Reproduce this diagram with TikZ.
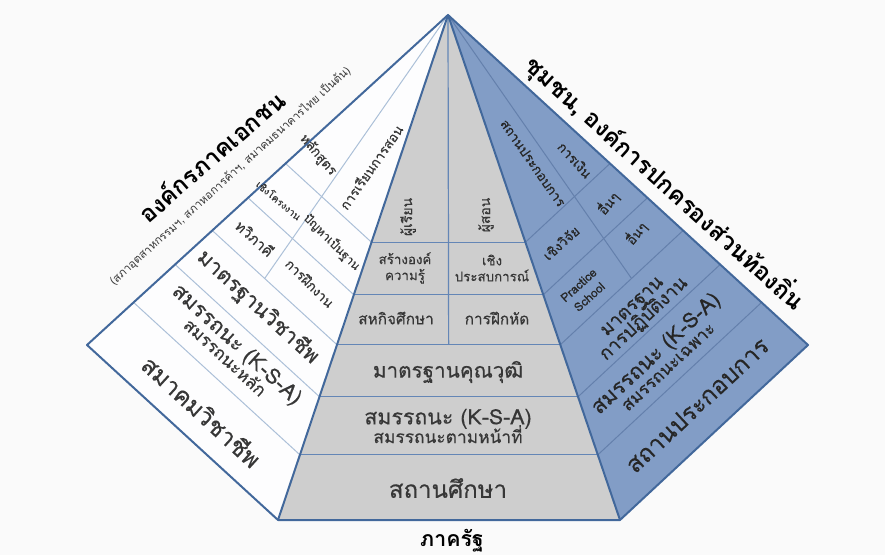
\documentclass[tikz,border=0pt]{standalone}
\usepackage{fontspec}
\newfontfamily\thaifont[Script=Thai, FakeBold=0.4]{Loma}
\newfontfamily\thaihead[Script=Thai]{Loma}
\newcommand\subsz{\fontsize{13}{14}\selectfont}
\usetikzlibrary{calc}
\tikzset{
  edge/.style = {draw=edgeBlue, line width=1.5pt, line join=round},
  bandL/.style = {draw=lineLeft, line width=0.75pt},
  bandF/.style = {draw=lineFront, line width=0.9pt},
  bandR/.style = {draw=lineRight, line width=0.75pt}
}

\begin{document}
\begin{tikzpicture}[x=0.75pt, y=-0.75pt]
  \definecolor{edgeBlue}{RGB}{66,104,155}
  \definecolor{frontGray}{RGB}{206,206,206}
  \definecolor{rightBlue}{RGB}{130,157,198}
  \definecolor{leftWhite}{RGB}{253,253,254}
  \definecolor{lineLeft}{RGB}{172,192,216}
  \definecolor{lineFront}{RGB}{100,134,182}
  \definecolor{lineRight}{RGB}{100,128,172}
  \definecolor{txtGray}{RGB}{55,55,55}
  \tikzset{
    sideLabel/.style={font=\thaihead\bfseries\fontsize{18}{20}\selectfont, text=black},
    noteText/.style={font=\thaihead\fontsize{8.5}{10}\selectfont, text=txtGray},
    bandText/.style={font=\thaifont\fontsize{16}{17}\selectfont, text=txtGray, align=center},
    baseText/.style={font=\thaifont\fontsize{18}{20}\selectfont, text=txtGray, align=center},
    cellText/.style={font=\thaifont\fontsize{10}{12}\selectfont, text=txtGray, align=center}
  }

  \useasboundingbox (0,0) rectangle (885,555);
  \fill[white!98!black] (0,0) rectangle (885,555);

  \coordinate (A)  at (448,15);
  \coordinate (L)  at (87,345);
  \coordinate (BL) at (278,520);
  \coordinate (BR) at (620,520);
  \coordinate (R)  at (808,345);
  \coordinate (dL) at ($(L)!0.42!(BL)$);
  \coordinate (dF) at ($(BL)!0.5!(BR)$);
  \coordinate (dR) at ($(R)!0.42!(BR)$);

  \fill[leftWhite] (A) -- (L) -- (BL) -- cycle;
  \fill[frontGray] (A) -- (BL) -- (BR) -- cycle;
  \fill[rightBlue] (A) -- (BR) -- (R) -- cycle;

  % bands
  \foreach \t in {0.45,0.554,0.653,0.756,0.871} {
    \draw[bandL] ($(A)!\t!(L)$)  -- ($(A)!\t!(BL)$);
    \draw[bandF] ($(A)!\t!(BL)$) -- ($(A)!\t!(BR)$);
    \draw[bandR] ($(A)!\t!(BR)$) -- ($(A)!\t!(R)$);
  }
  \draw[bandL] (A) -- ($(A)!0.653!(dL)$);
  \draw[bandF] (A) -- ($(A)!0.653!(dF)$);
  \draw[bandR] (A) -- ($(A)!0.653!(dR)$);

  \draw[edge] (A) -- (L) -- (BL) -- (BR) -- (R) -- cycle;
  \draw[edge] (BL) -- (A) -- (BR);

  % front face
  \node[cellText, font=\thaifont\fontsize{10.5}{12}\selectfont, rotate=90] (learner) at (408,217) {ผู้เรียน};
  \node[cellText, font=\thaifont\fontsize{10.5}{12}\selectfont, rotate=90] (teacher) at (486,215) {ผู้สอน};
  \node[cellText] (build) at (405,268) {สร้างองค์\\ความรู้};
  \node[cellText] (exper) at (492,268) {เชิง\\ประสบการณ์};
  \node[cellText, font=\thaifont\fontsize{11.5}{13}\selectfont] (coop) at (396,318) {สหกิจศึกษา};
  \node[cellText, font=\thaifont\fontsize{11.5}{13}\selectfont] (drill) at (497,318) {การฝึกหัด};
  \node[bandText, font=\thaifont\fontsize{15.5}{17}\selectfont] (qualstd) at (448,372) {มาตรฐานคุณวุฒิ};
  \node[bandText] (funccomp) at (448,426) {สมรรถนะ (K-S-A)\\[-3pt]{\subsz สมรรถนะตามหน้าที่}};
  \node[baseText] (school) at (448,488) {สถานศึกษา};
  \node[sideLabel, font=\thaihead\bfseries\fontsize{16}{18}\selectfont] (state) at (452,541) {ภาครัฐ};

  % left face
  \node[baseText, rotate=-42.5] (assoc) at (202,411) {สมาคมวิชาชีพ};
  \node[bandText, rotate=-42.5] (corecomp) at (232,350) {สมรรถนะ (K-S-A)\\[-4pt]{\subsz สมรรถนะหลัก}};
  \node[bandText, rotate=-42.5] (profstd) at (258,307) {มาตรฐานวิชาชีพ};
  \node[cellText, font=\thaifont\fontsize{11}{12}\selectfont, rotate=-42] (dual) at (255,238) {ทวิภาคี};
  \node[cellText, rotate=-45] (intern) at (310,283) {การฝึกงาน};
  \node[cellText, font=\thaifont\fontsize{7.5}{9}\selectfont, rotate=-40] (project) at (279,200) {เชิงโครงงาน};
  \node[cellText, font=\thaifont\fontsize{9}{10}\selectfont, rotate=-45] (pbl) at (332,242) {ปัญหาเป็นฐาน};
  \node[cellText, rotate=-50] (curr) at (318,155) {หลักสูตร};
  \node[cellText, rotate=55] (teach) at (371,167) {การเรียนการสอน};
  \node[sideLabel, rotate=41] (private) at (211,156) {องค์กรภาคเอกชน};
  \node[noteText, rotate=42] (privnote) at (230,176) {(สภาอุตสาหกรรมฯ, สภาหอการค้าฯ, สมาคมธนาคารไทย เป็นต้น)};

  % right face
  \node[cellText, text=black!85, rotate=-55] (firm) at (533,163) {สถานประกอบการ};
  \node[cellText, text=black!85, rotate=-48] (finance) at (575,160) {การเงิน};
  \node[cellText, text=black!85, rotate=42] (research) at (561,243) {เชิงวิจัย};
  \node[cellText, text=black!85, rotate=50] (other1) at (608,203) {อื่นๆ};
  \node[cellText, text=black!85, font=\thaifont\fontsize{9}{12}\selectfont, rotate=42] (practice) at (584,291) {Practice\\School};
  \node[cellText, text=black!85, rotate=50] (other2) at (636,233) {อื่นๆ};
  \node[bandText, text=black!85, font=\thaifont\fontsize{14}{16}\selectfont, rotate=43] (workstd) at (639,314) {มาตรฐาน\\[-3pt]การปฏิบัติงาน};
  \node[bandText, text=black!85, rotate=43] (speccomp) at (661,359) {สมรรถนะ (K-S-A)\\[-4pt]{\subsz สมรรถนะเฉพาะ}};
  \node[baseText, text=black!85, rotate=43] (firm2) at (697,405) {สถานประกอบการ};
  \node[sideLabel, rotate=-42] (community) at (665,183) {ชุมชน, องค์การปกครองส่วนท้องถิ่น};
\end{tikzpicture}
\end{document}
